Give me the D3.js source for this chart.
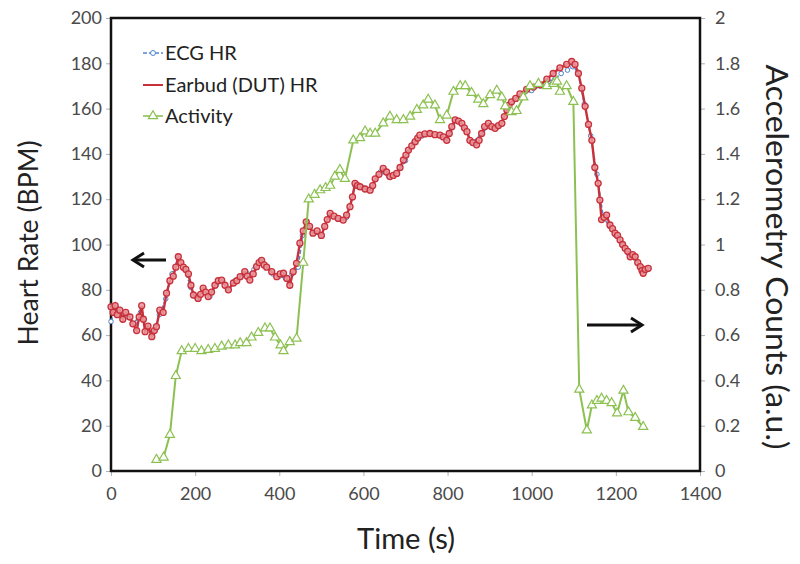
<!DOCTYPE html>
<html><head><meta charset="utf-8">
<script src="https://cdn.jsdelivr.net/npm/d3@7"></script>
<style>body{margin:0;background:#fff;} svg{display:block;font-family:Lato,"Open Sans",sans-serif;}</style>
</head><body><svg id="c" width="800" height="564"></svg>
<script>
// ---- data ----
const earbudTime = [0,5,10,15,21,28,35,45,52,61,67,73,77,81,88,97,103,108,116,124,132,140,148,154,160,166,172,178,184,190,196,207,213,219,225,231,239,247,255,263,271,279,291,299,307,318,324,330,338,346,352,358,364,370,382,394,402,410,418,425,433,441,449,457,464,472,480,490,500,508,514,521,530,540,552,560,568,574,580,586,592,604,616,622,628,637,647,655,663,671,679,687,695,701,707,715,723,729,734,746,758,770,782,790,798,804,810,818,826,834,840,846,853,860,869,875,881,888,897,905,913,921,929,935,941,946,952,962,972,988,1004,1020,1036,1051,1067,1083,1095,1103,1111,1119,1127,1135,1143,1150,1158,1162,1166,1172,1178,1186,1192,1198,1204,1210,1216,1222,1228,1234,1240,1246,1252,1258,1262,1265,1270,1277];
const earbudHR = [72.5,70,73,69,71,67,70,68,65,62,68,73,67,61.5,64,59.3,62,63.7,71,70,78.5,84,86,90,94.6,92,90,89,87,82,77.7,76.2,78,80.7,79,77,79,82,84,84.3,82,80,83,84,85.8,88,86,84.3,87,90.2,92,93,91,90,88,85.8,87,87.3,85,82,88,91.7,100.6,106,110,108,105,106,104,108,111,113.7,112.5,111.5,110.8,113,116.7,121,127,126,125.5,124.5,124,126,129,131,133.6,132,130,130.5,131.4,134,137.3,139.5,141.7,143.5,145.4,147,148.3,148.8,149,148.5,148.3,147.5,146,149,152,155,154.5,153.5,151.5,149.8,146,145,144,146,149,152,153.5,152,151.3,152.5,153.5,156.5,159.4,161.5,163,164.5,166.5,168.5,169.5,170.5,173,175.5,178,179.5,180.8,179.5,175.5,169,161,153,146,134,127,119.6,111,112,113,108.6,107,105,104,102,100,98.3,97,94.6,95.5,94.6,92,90.2,88.5,87.3,89,89.5];
const ecgTime = [0,12,25,40,55,70,85,100,115,130,145,160,175,190,205,220,235,250,265,280,295,310,325,340,355,370,385,400,415,430,445,455,465,480,500,520,540,560,580,600,620,640,660,680,700,720,740,760,780,800,820,840,860,880,900,920,940,960,980,1000,1020,1040,1055,1070,1085,1098,1110,1125,1140,1155,1170,1185,1200,1215,1230,1245,1260,1277];
const ecgHR = [66,72,69,68,65,70,63,61,69,76,87,94,89,81,76,80,77,82,84,80,84,86,87,89,93,90,87,86,85,87,90,104,110,105,104,113,111.5,112,126,125,125,132,130,131,137,145,148,149,148,146,155,151,145,149,152,152,158,164,166,168,170,172,173,175.5,177,178.5,176,162,148,131,112,108,104,100,96,94,90,89];
const actTime = [108,125,140,154,168,184,200,215,231,247,263,279,295,307,322,334,350,366,378,390,403,410,425,441,457,470,484,497,510,521,532,544,556,576,592,604,616,628,647,663,679,695,711,727,742,754,770,782,798,814,830,842,857,873,885,901,917,929,937,952,964,980,996,1016,1036,1052,1060,1067,1083,1099,1113,1131,1143,1155,1166,1178,1190,1203,1218,1230,1246,1265];
const actVal = [0.05,0.06,0.16,0.42,0.53,0.54,0.54,0.53,0.535,0.54,0.55,0.555,0.555,0.565,0.565,0.59,0.61,0.63,0.63,0.59,0.555,0.53,0.57,0.585,0.92,1.2,1.22,1.24,1.25,1.26,1.30,1.33,1.29,1.46,1.47,1.5,1.49,1.49,1.535,1.565,1.55,1.55,1.565,1.595,1.615,1.64,1.615,1.55,1.57,1.675,1.70,1.70,1.67,1.64,1.62,1.66,1.68,1.65,1.61,1.585,1.59,1.65,1.70,1.71,1.70,1.71,1.72,1.675,1.70,1.63,0.36,0.18,0.29,0.31,0.32,0.31,0.30,0.255,0.355,0.26,0.235,0.195];
const xTicks = [0,200,400,600,800,1000,1200,1400];
const yLeftTicks = [0,20,40,60,80,100,120,140,160,180,200];
const yRightTicks = [0,0.2,0.4,0.6,0.8,1,1.2,1.4,1.6,1.8,2];
const legendLabels = ["ECG HR","Earbud (DUT) HR","Activity"];

// ---- layout ----
const svg = d3.select("#c");
const L=111, R=700, T=18, B=471;
const x = d3.scaleLinear().domain([0,1400]).range([L,R]);
const yL = d3.scaleLinear().domain([0,200]).range([B,T]);
const yR = d3.scaleLinear().domain([0,2]).range([B,T]);

const tickCol="#b0b0b0", labCol="#4a4a4a";
function styleAxis(g){
  g.select(".domain").remove();
  g.selectAll(".tick line").attr("stroke",tickCol).attr("stroke-width",1);
  g.selectAll(".tick text").attr("fill",labCol).attr("font-size",18).attr("font-family","Lato,'Open Sans',sans-serif");
}
svg.append("g").attr("transform",`translate(0,${B})`)
  .call(d3.axisBottom(x).tickValues(xTicks).tickSize(5).tickPadding(11).tickFormat(d3.format("d"))).call(styleAxis);
svg.append("g").attr("transform",`translate(${L},0)`)
  .call(d3.axisLeft(yL).tickValues(yLeftTicks).tickSize(5).tickPadding(4).tickFormat(d3.format("d"))).call(styleAxis);
svg.append("g").attr("transform",`translate(${R},0)`)
  .call(d3.axisRight(yR).tickValues(yRightTicks).tickSize(5).tickPadding(10).tickFormat(d=>d3.format("~g")(d))).call(styleAxis);

// frame
svg.append("rect").attr("x",L).attr("y",T).attr("width",R-L).attr("height",B-T)
  .attr("fill","none").attr("stroke","#111").attr("stroke-width",2.5);

// ---- series ----
const ecg = ecgTime.map((t,i)=>[t,ecgHR[i]]);
const earbud = earbudTime.map((t,i)=>[t,earbudHR[i]]);
const act = actTime.map((t,i)=>[t,actVal[i]]);
const lineL = d3.line().x(d=>x(d[0])).y(d=>yL(d[1]));
const lineR = d3.line().x(d=>x(d[0])).y(d=>yR(d[1]));

const blue="#4f86d0", red="#c8313a", green="#8cc152";

// ECG
svg.append("path").datum(ecg).attr("d",lineL).attr("fill","none").attr("stroke",blue).attr("stroke-width",1.6).attr("stroke-dasharray","4,2");
svg.append("g").selectAll("circle").data(ecg).join("circle")
  .attr("cx",d=>x(d[0])).attr("cy",d=>yL(d[1])).attr("r",2.3)
  .attr("fill","#fff").attr("stroke",blue).attr("stroke-width",1);

// Earbud
svg.append("path").datum(earbud).attr("d",lineL).attr("fill","none").attr("stroke",red).attr("stroke-width",2.4);
svg.append("g").selectAll("circle").data(earbud).join("circle")
  .attr("cx",d=>x(d[0])).attr("cy",d=>yL(d[1])).attr("r",3)
  .attr("fill","#ea9aa0").attr("fill-opacity",0.85).attr("stroke",red).attr("stroke-width",1.3);

// Activity
const tri = d3.symbol().type(d3.symbolTriangle).size(36);
svg.append("path").datum(act).attr("d",lineR).attr("fill","none").attr("stroke",green).attr("stroke-width",2);
svg.append("g").selectAll("path").data(act).join("path")
  .attr("d",tri).attr("transform",d=>`translate(${x(d[0])},${yR(d[1])})`)
  .attr("fill","#fff").attr("stroke",green).attr("stroke-width",1.2);

// ---- legend ----
const lg = svg.append("g");
const legY=[53,85,116];
const legCols=[blue,red,green];
legendLabels.forEach((lab,i)=>{
  const y=legY[i];
  lg.append("line").attr("x1",143).attr("x2",163).attr("y1",y).attr("y2",y)
    .attr("stroke",legCols[i]).attr("stroke-width",i==1?2:1.6).attr("stroke-dasharray",i==0?"4,2":null);
  if(i==0) lg.append("circle").attr("cx",153).attr("cy",y).attr("r",2.5).attr("fill","#fff").attr("stroke",blue);
  if(i==2) lg.append("path").attr("d",tri).attr("transform",`translate(153,${y})`).attr("fill","#fff").attr("stroke",green).attr("stroke-width",1.2);
  lg.append("text").attr("x",165).attr("y",y).attr("dy","0.35em").attr("font-size",20).attr("fill","#222").text(lab);
});

// ---- arrows ----
function arrow(x1,x2,y,dir){
  const g=svg.append("g");
  const tip = dir<0?x1:x2;
  g.append("line").attr("x1",x1).attr("x2",x2).attr("y1",y).attr("y2",y).attr("stroke","#111").attr("stroke-width",3);
  g.append("path").attr("d",`M${tip-dir*11},${y-7}L${tip},${y}L${tip-dir*11},${y+7}`)
    .attr("fill","none").attr("stroke","#111").attr("stroke-width",3).attr("stroke-linejoin","miter");
}
arrow(133,166,260,-1);
arrow(587,642,325,1);

// ---- titles ----
svg.append("text").attr("transform","translate(38,243) rotate(-90)").attr("text-anchor","middle")
  .attr("font-size",27).attr("fill","#222").attr("textLength",205).attr("lengthAdjust","spacingAndGlyphs").text("Heart Rate (BPM)");
svg.append("text").attr("transform","translate(766,257) rotate(90)").attr("text-anchor","middle")
  .attr("font-size",30).attr("fill","#222").attr("textLength",385).attr("lengthAdjust","spacingAndGlyphs").text("Accelerometry Counts (a.u.)");
svg.append("text").attr("x",406).attr("y",549).attr("text-anchor","middle")
  .attr("font-size",28).attr("fill","#222").attr("textLength",98).attr("lengthAdjust","spacingAndGlyphs").text("Time (s)");
</script></body></html>
